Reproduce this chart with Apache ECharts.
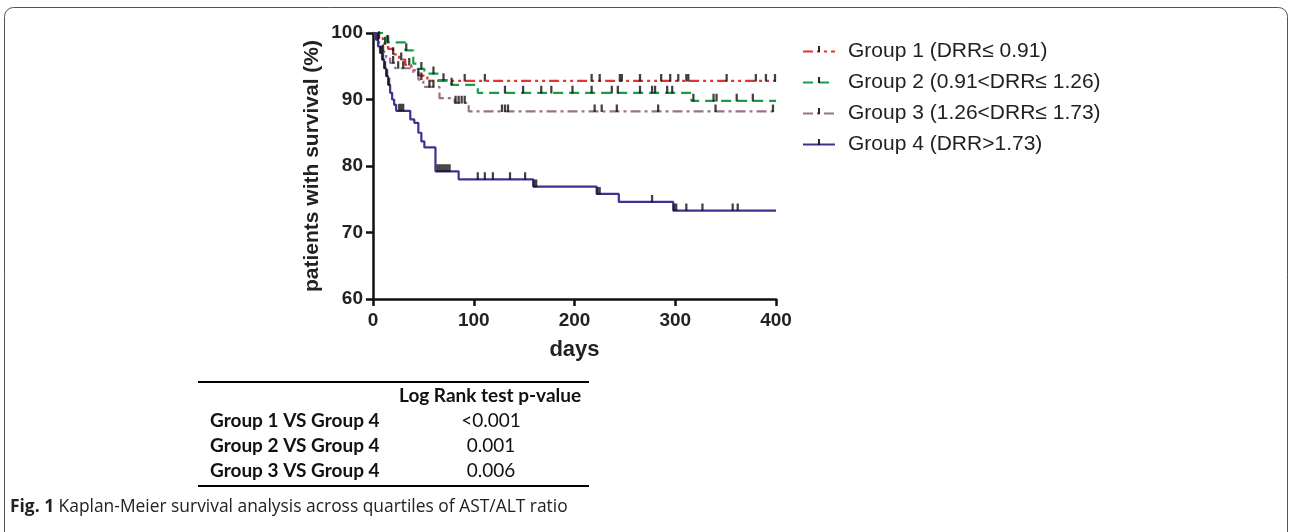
<!DOCTYPE html>
<html>
<head>
<meta charset="utf-8">
<script src="https://cdn.jsdelivr.net/npm/echarts@6/dist/echarts.min.js"></script>
<style>
html,body{margin:0;padding:0;background:#fff}
#main{width:1292px;height:532px}
</style>
</head>
<body>
<div id="main"></div>
<script>
// KM step curves: [day, survival %] - value holds until next point
var group1 = [[0,100],[5,99.2],[10,98.4],[15,97.6],[20,96.8],[26,96],[32,95.2],[38,94.4],[45,93.6],[54,92.8],[400,92.8]];
var group2 = [[0,100],[14,98.6],[32,97.4],[40,95.4],[44,94.6],[51,93.9],[65,92.9],[78,92.2],[104,91],[316,89.8],[400,89.8]];
var group3 = [[0,100],[3,99],[6,98],[9,97.2],[13,96.3],[17,95.5],[22,94.7],[40,94],[45,93],[50,91.9],[66,90.2],[81,89.5],[95,88.2],[400,88.2]];
var group4 = [[0,100],[3,99],[5,98],[7,97],[9,96],[11,94.7],[13,93.5],[15,92.2],[17,91],[19,90],[21,89.2],[23,88.3],[37,87],[41,86.5],[45,85],[48,83.7],[51,82.8],[62,79.2],[85,78],[159,76.9],[222,75.8],[244,74.6],[298,73.3],[400,73.3]];

// censored observations (days)
var cens1 = [6,12,20,28,36,45,91,111,217,225,245,247,265,286,295,303,311,313,351,380,390,399];
var cens2 = [15,33,48,60,70,78,131,149,167,177,198,217,237,243,265,277,280,292,297,318,338,341,361,377];
var cens3 = [5,10,20,25,30,48,56,60,82,85,88,91,128,131,134,220,227,242,283,340,397];
var cens4 = [8,10,12,14,16,26,28,30,64,66,68,70,72,74,76,104,111,119,136,151,160,162,223,225,277,299,301,311,327,357,362];

var groupNames = ['Group 1 (DRR\u2264 0.91)','Group 2 (0.91<DRR\u2264 1.26)','Group 3 (1.26<DRR\u2264 1.73)','Group 4 (DRR>1.73)'];
var xTicks = [0,100,200,300,400];
var yTicks = [60,70,80,90,100];

var tableHead = 'Log Rank test p-value';
var tableRows = ['Group 1 VS Group 4','Group 2 VS Group 4','Group 3 VS Group 4'];
var tableVals = ['<0.001','0.001','0.006'];

var colors = ['#e6332f','#15a046','#9a7189','#40308f'];
var dashes = [[10,4,3,4,3,4],[10,6],[10,4,3,4],'solid'];
var curves = [group1,group2,group3,group4];
var censors = [cens1,cens2,cens3,cens4];

// tick mark sitting on top of the line
var tickSym = 'path://M4.2,0H5.8V5.4H4.2Z M0,9.98H0.02V10H0Z M9.98,9.98H10V10H9.98Z';

function valueAt(curve, d){
    var v = curve[0][1];
    for (var i = 0; i < curve.length; i++) {
        if (curve[i][0] <= d) v = curve[i][1];
    }
    return v;
}

var myChart = echarts.init(document.getElementById('main'));

var series = [];
for (var i = 0; i < 4; i++) {
    series.push({
        name: groupNames[i],
        type: 'line',
        step: 'end',
        data: curves[i],
        symbol: tickSym,
        symbolSize: 14,
        showSymbol: false,
        itemStyle: {color: '#111'},
        lineStyle: {color: colors[i], width: 2.2, type: dashes[i]},
        z: 2 + i,
        animation: false
    });
}
for (var j = 0; j < 4; j++) {
    series.push({
        name: 'cens' + (j + 1),
        type: 'scatter',
        data: censors[j].map(function (d) { return [d, valueAt(curves[j], d)]; }),
        symbol: tickSym,
        symbolSize: 14,
        itemStyle: {color: '#111'},
        z: 10,
        animation: false
    });
}

var tblFont = 'Lato, "Open Sans", sans-serif';
var capFont = '"Open Sans", sans-serif';
var graphics = [
    {type: 'rect', shape: {x: 4.5, y: 7.5, width: 1283, height: 560, r: 9}, style: {fill: 'none', stroke: '#555', lineWidth: 1}},
    {type: 'line', shape: {x1: 198, y1: 382, x2: 589, y2: 382}, style: {stroke: '#000', lineWidth: 2}},
    {type: 'line', shape: {x1: 198, y1: 486, x2: 589, y2: 486}, style: {stroke: '#000', lineWidth: 2}},
    {type: 'text', left: 399, top: 386, style: {text: tableHead, font: 'bold 19px ' + tblFont, fill: '#111'}},
    {type: 'text', left: 10, top: 499, style: {
        text: '{b|Fig. 1} Kaplan-Meier survival analysis across quartiles of AST/ALT ratio',
        font: '17.4px ' + capFont, fill: '#222',
        rich: {b: {font: 'bold 17.4px ' + capFont, fill: '#222'}}
    }}
];
for (var k = 0; k < tableRows.length; k++) {
    graphics.push({type: 'text', left: 210, top: 411 + k * 25, style: {text: tableRows[k], font: 'bold 19px ' + tblFont, fill: '#111'}});
    graphics.push({type: 'text', x: 491, y: 411 + k * 25, style: {text: tableVals[k], font: '19px ' + tblFont, fill: '#111', align: 'center'}});
}

var axFont = '"Liberation Sans", Arial, sans-serif';
var option = {
    backgroundColor: '#fff',
    animation: false,
    grid: {left: 373, right: 516, top: 33, bottom: 233},
    legend: {
        data: groupNames,
        orient: 'vertical',
        left: 797,
        top: 36,
        itemWidth: 32,
        itemHeight: 14,
        itemGap: 10,
        textStyle: {fontFamily: axFont, fontSize: 21, color: '#222', padding: [0, 0, 0, 8]}
    },
    xAxis: {
        type: 'value', min: 0, max: 400, interval: 100,
        name: 'days', nameLocation: 'middle', nameGap: 40,
        nameTextStyle: {fontFamily: axFont, fontSize: 22, fontWeight: 'bold', color: '#222'},
        axisLine: {lineStyle: {color: '#111', width: 2.5}},
        axisTick: {show: true, length: 7, lineStyle: {color: '#111', width: 2.5}},
        axisLabel: {fontFamily: axFont, fontSize: 19, fontWeight: 'bold', color: '#222', margin: 12,
            formatter: function (v) { return xTicks.indexOf(v) >= 0 ? String(v) : ''; }},
        splitLine: {show: false}
    },
    yAxis: {
        type: 'value', min: 60, max: 100, interval: 10,
        name: 'patients with survival (%)', nameLocation: 'middle', nameGap: 50,
        nameTextStyle: {fontFamily: axFont, fontSize: 21, fontWeight: 'bold', color: '#222'},
        axisLine: {show: true, lineStyle: {color: '#111', width: 2.5}},
        axisTick: {show: true, length: 7, lineStyle: {color: '#111', width: 2.5}},
        axisLabel: {fontFamily: axFont, fontSize: 19, fontWeight: 'bold', color: '#222', margin: 10,
            formatter: function (v) { return yTicks.indexOf(v) >= 0 ? String(v) : ''; }},
        splitLine: {show: false}
    },
    graphic: graphics,
    series: series
};

myChart.setOption(option);
</script>
</body>
</html>
